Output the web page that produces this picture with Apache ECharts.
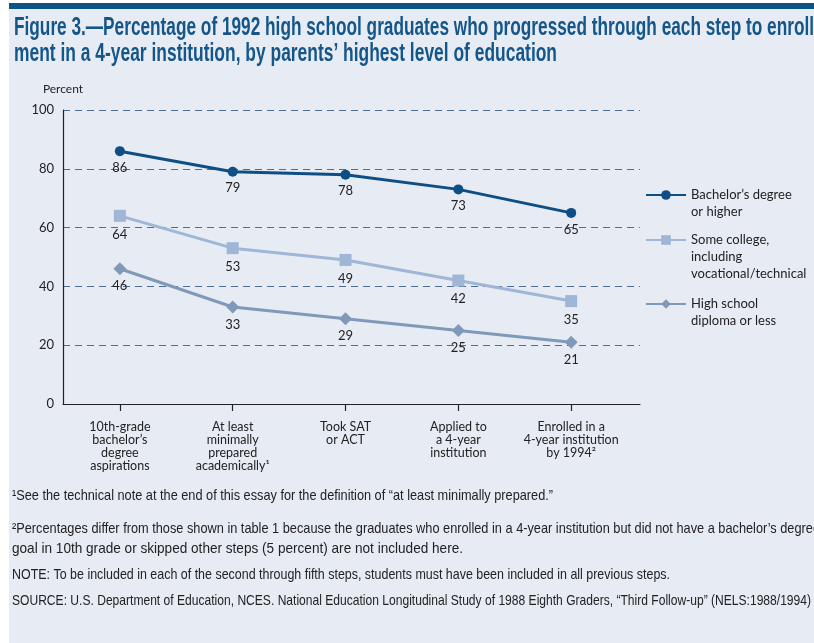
<!DOCTYPE html>
<html><head><meta charset="utf-8">
<script src="https://cdn.jsdelivr.net/npm/echarts@6/dist/echarts.min.js"></script>
<style>html,body{margin:0;padding:0;background:#fff}#c{width:814px;height:643px}</style>
</head><body><div id="c"></div><script>
const categories = ["10th-grade\nbachelor’s\ndegree\naspirations", "At least\nminimally\nprepared\nacademically¹", "Took SAT\nor ACT", "Applied to\na 4-year\ninstitution", "Enrolled in a\n4-year institution\nby 1994²"];
const seriesNames = ["Bachelor’s degree\nor higher", "Some college,\nincluding\nvocational/technical", "High school\ndiploma or less"];
const bachelors = [86, 79, 78, 73, 65];
const someCollege = [64, 53, 49, 42, 35];
const highSchool = [46, 33, 29, 25, 21];
const titleLines = ["Figure 3.—Percentage of 1992 high school graduates who progressed through each step to enroll-", "ment in a 4-year institution, by parents’ highest level of education"];
const footLines = [
  "¹See the technical note at the end of this essay for the definition of “at least minimally prepared.”",
  "²Percentages differ from those shown in table 1 because the graduates who enrolled in a 4-year institution but did not have a bachelor’s degree",
  "goal in 10th grade or skipped other steps (5 percent) are not included here.",
  "NOTE: To be included in each of the second through fifth steps, students must have been included in all previous steps.",
  "SOURCE: U.S. Department of Education, NCES. National Education Longitudinal Study of 1988 Eighth Graders, “Third Follow-up” (NELS:1988/1994)"
];

const BG = '#e7ecf4';
const ctx = document.createElement('canvas').getContext('2d');
function widthOf(text, font) { ctx.font = font; return ctx.measureText(text).width; }

const titleFont = 'bold 25px "Liberation Sans"';
const titleScale1 = 800 / widthOf("Figure 3.—Percentage of 1992 high school graduates who progressed through each step to enroll", titleFont);
const titleScale2 = 543 / widthOf(titleLines[1], titleFont);
const footFont = 'normal 14.5px "Liberation Sans"';
const footTargets = [541, 808, 451, 658, 799];
const footY = [496, 529, 549, 575, 601];

const chart = echarts.init(document.getElementById('c'), null, {renderer: 'canvas'});
const pairs = arr => arr.map((v, i) => [i, v]);
const idx = categories.map((c, i) => i);

function legendFor(i, top) {
  return {
    data: [seriesNames[i]], selectedMode: false, orient: 'vertical',
    left: 645, top: top, padding: 0, itemWidth: 40, itemHeight: 12,
    formatter: name => '\n'.repeat(name.split('\n').length - 1) + name,
    textStyle: {fontFamily: 'Lato', fontSize: 13, lineHeight: 17, color: '#222'}
  };
}

const option = {
  backgroundColor: '#fff',
  animation: false,
  textStyle: {fontFamily: 'Lato'},
  graphic: [
    {type: 'rect', left: 9, top: 9, shape: {width: 805, height: 634}, style: {fill: BG}, z: -10, silent: true},
    {type: 'rect', left: 9, top: 3, shape: {width: 805, height: 6}, style: {fill: '#0b5486'}, z: -9, silent: true},
    {type: 'text', x: 14, y: 28, scaleX: titleScale1, style: {text: titleLines[0], font: titleFont, fill: '#15568a', verticalAlign: 'middle'}},
    {type: 'text', x: 14, y: 54, scaleX: titleScale2, style: {text: titleLines[1], font: titleFont, fill: '#15568a', verticalAlign: 'middle'}}
  ].concat(footLines.map((t, i) => ({type: 'text', x: 12, y: footY[i], scaleX: footTargets[i] / widthOf(t, footFont), style: {text: t, font: footFont, fill: '#222', verticalAlign: 'middle'}}))),
  grid: {left: 63, right: 174, top: 110, bottom: 239},
  xAxis: {
    type: 'value', min: -0.504, max: 4.61,
    axisLine: {show: true, onZero: false, lineStyle: {color: '#222', width: 1.2}},
    axisTick: {show: true, customValues: idx, length: 7, lineStyle: {color: '#222', width: 1.2}},
    axisLabel: {customValues: idx, formatter: v => categories[Math.round(v)] || '', fontSize: 12.5, lineHeight: 13, color: '#222', margin: 16},
    splitLine: {show: false}
  },
  yAxis: {
    type: 'value', min: 0, max: 100, interval: 20,
    name: 'Percent', nameLocation: 'end', nameGap: 15,
    nameTextStyle: {fontSize: 12, color: '#222', align: 'center'},
    axisLine: {show: true, onZero: false, lineStyle: {color: '#222', width: 1.2}},
    axisTick: {show: false},
    axisLabel: {fontSize: 13, color: '#222', margin: 9},
    splitLine: {show: true, lineStyle: {color: '#4a6f96', width: 1.2, type: [7, 5]}}
  },
  legend: [
    legendFor(0, 169.5),
    legendFor(1, 197.5),
    legendFor(2, 278.5)
  ],
  series: [
    {name: seriesNames[0], type: 'line', data: pairs(bachelors), symbol: 'circle', symbolSize: 10,
     lineStyle: {width: 3, color: '#0d4f85'}, itemStyle: {color: '#0d4f85'},
     label: {show: true, position: 'bottom', distance: 5, fontSize: 13, color: '#222', formatter: p => p.value[1]}},
    {name: seriesNames[1], type: 'line', data: pairs(someCollege), symbol: 'rect', symbolSize: 12,
     lineStyle: {width: 3, color: '#9fb6d6'}, itemStyle: {color: '#9fb6d6'},
     label: {show: true, position: 'bottom', distance: 6, fontSize: 13, color: '#222', formatter: p => p.value[1]}},
    {name: seriesNames[2], type: 'line', data: pairs(highSchool), symbol: 'diamond', symbolSize: 13,
     lineStyle: {width: 3, color: '#8199b9'}, itemStyle: {color: '#8199b9'},
     label: {show: true, position: 'bottom', distance: 4.5, fontSize: 13, color: '#222', formatter: p => p.value[1]}}
  ]
};
chart.setOption(option);
</script></body></html>
